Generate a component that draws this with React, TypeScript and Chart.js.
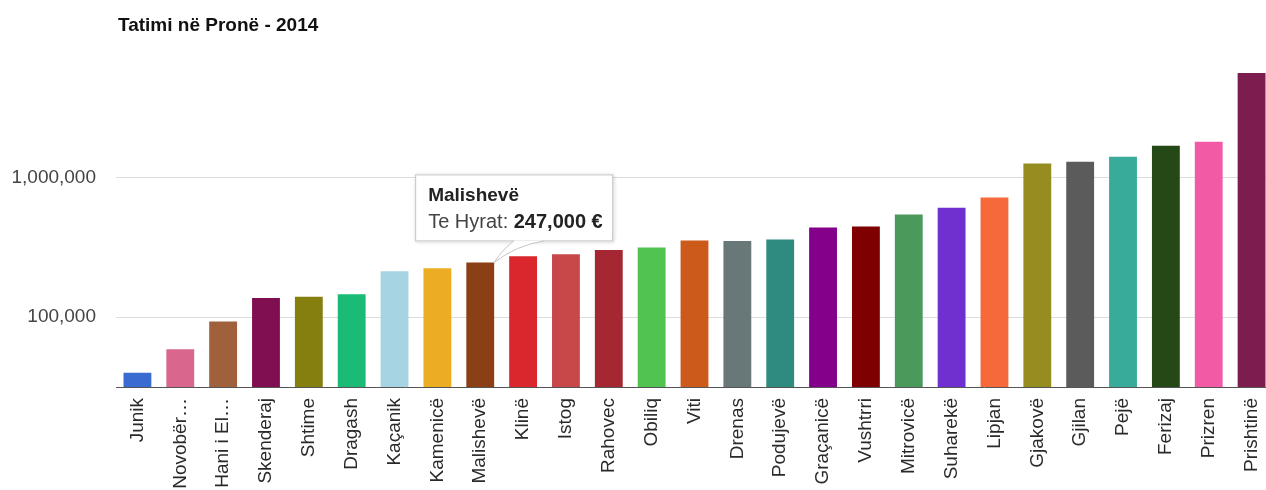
import React, { useEffect, useRef } from "react";
import { Chart, registerables } from "chart.js";

Chart.register(...registerables);

const chartTitle = "Tatimi në Pronë - 2014";
const seriesName = "Te Hyrat";

const categories = [
  "Junik", "Novobërdë", "Hani i Elezit", "Skenderaj", "Shtime", "Dragash", "Kaçanik",
  "Kamenicë", "Malishevë", "Klinë", "Istog", "Rahovec", "Obiliq", "Viti", "Drenas",
  "Podujevë", "Graçanicë", "Vushtrri", "Mitrovicë", "Suharekë", "Lipjan", "Gjakovë",
  "Gjilan", "Pejë", "Ferizaj", "Prizren", "Prishtinë",
];

const tickLabels = [
  "Junik", "Novobër…", "Hani i El…", "Skenderaj", "Shtime", "Dragash", "Kaçanik",
  "Kamenicë", "Malishevë", "Klinë", "Istog", "Rahovec", "Obiliq", "Viti", "Drenas",
  "Podujevë", "Graçanicë", "Vushtrri", "Mitrovicë", "Suharekë", "Lipjan", "Gjakovë",
  "Gjilan", "Pejë", "Ferizaj", "Prizren", "Prishtinë",
];

const revenues = [
  40000, 59000, 93000, 137000, 140000, 146000, 213000,
  224000, 247000, 273000, 282000, 303000, 316000, 355000, 351000,
  361000, 439000, 447000, 544000, 608000, 720000, 1260000,
  1300000, 1410000, 1690000, 1810000, 5620000,
];

const barColors = [
  "#3a6bd0", "#d9668c", "#a0603c", "#7f0f50", "#857f10", "#1abc75", "#a6d4e2",
  "#ecac23", "#8a3f15", "#d9272d", "#c8484a", "#a52731", "#50c350", "#cc5a1b", "#687878",
  "#2f8a80", "#85008a", "#7f0000", "#4c9a5b", "#7030d0", "#f5693b", "#958d20",
  "#5b5b5b", "#38ab9a", "#254817", "#f25aa6", "#7d1d4f",
];

const yTicks = [100000, 1000000];
const yMin = 31623;
const yMax = 7943282;
const highlightIndex = 8;

const FONT = '"Liberation Sans", Arial, sans-serif';

const fmt = (v: number) => Number(v).toLocaleString("en-US");

const overlayPlugin = {
  id: "overlay",
  afterDraw(chart: any) {
    const ctx = chart.ctx as CanvasRenderingContext2D;
    const area = chart.chartArea;
    ctx.save();
    // Title
    ctx.font = `bold 19px ${FONT}`;
    ctx.fillStyle = "#111";
    ctx.textBaseline = "alphabetic";
    ctx.textAlign = "left";
    ctx.fillText(chartTitle, area.left + 2, 31);

    // Tooltip for highlighted bar
    const el = chart.getDatasetMeta(0).data[highlightIndex];
    if (el) {
      const p = el.getProps(["x", "y", "width"], true);
      const tipX = p.x + p.width / 2;
      const tipY = p.y;
      const bw = 198;
      const bh = 67;
      const bx = tipX - 79;
      const by = tipY - 88;
      const bb = by + bh;

      ctx.shadowColor = "rgba(0,0,0,0.18)";
      ctx.shadowBlur = 4;
      ctx.shadowOffsetX = 1;
      ctx.shadowOffsetY = 1;
      ctx.fillStyle = "#fff";
      ctx.fillRect(bx, by, bw, bh);
      ctx.shadowColor = "transparent";
      ctx.strokeStyle = "#c4c4c4";
      ctx.lineWidth = 1;
      ctx.strokeRect(bx + 0.5, by + 0.5, bw - 1, bh - 1);

      // tail
      ctx.beginPath();
      ctx.moveTo(tipX + 20, bb - 1);
      ctx.quadraticCurveTo(tipX + 10, bb + 6, tipX, tipY);
      ctx.quadraticCurveTo(tipX + 22, bb + 4, tipX + 50, bb - 1);
      ctx.closePath();
      ctx.fillStyle = "#fff";
      ctx.fill();
      ctx.beginPath();
      ctx.moveTo(tipX + 20, bb - 0.5);
      ctx.quadraticCurveTo(tipX + 10, bb + 6, tipX, tipY);
      ctx.quadraticCurveTo(tipX + 22, bb + 4, tipX + 50, bb - 0.5);
      ctx.strokeStyle = "#c4c4c4";
      ctx.stroke();

      // text
      ctx.fillStyle = "#222";
      ctx.font = `bold 19px ${FONT}`;
      ctx.fillText(categories[highlightIndex], bx + 13, by + 27);
      ctx.font = `20px ${FONT}`;
      ctx.fillStyle = "#444";
      const lbl = `${seriesName}: `;
      ctx.fillText(lbl, bx + 13, by + 54);
      const w = ctx.measureText(lbl).width;
      ctx.font = `bold 20px ${FONT}`;
      ctx.fillStyle = "#222";
      ctx.fillText(`${fmt(revenues[highlightIndex])} €`, bx + 13 + w, by + 54);
    }
    ctx.restore();
  },
};

export default function App() {
  const ref = useRef<HTMLCanvasElement | null>(null);

  useEffect(() => {
    if (!ref.current) return;
    const chart = new Chart(ref.current, {
      type: "bar",
      data: {
        labels: tickLabels,
        datasets: [
          {
            label: seriesName,
            data: revenues,
            backgroundColor: barColors,
            borderWidth: 0,
            barPercentage: 0.65,
            categoryPercentage: 1,
          },
        ],
      },
      options: {
        responsive: false,
        animation: false,
        devicePixelRatio: 1,
        layout: { padding: { top: 52, left: 0, right: 0, bottom: 0 } },
        plugins: {
          legend: { display: false },
          tooltip: { enabled: false },
          title: { display: false },
        },
        scales: {
          x: {
            grid: { display: false, drawTicks: false },
            border: { display: true, color: "#555", width: 1 },
            ticks: {
              autoSkip: false,
              minRotation: 90,
              maxRotation: 90,
              padding: 11,
              color: "#2a2a2a",
              font: { family: FONT, size: 19 },
            },
            afterFit: (s: any) => {
              s.height = 103;
              s.paddingLeft = 0;
              s.paddingRight = 0;
            },
          },
          y: {
            type: "logarithmic",
            min: yMin,
            max: yMax,
            afterBuildTicks: (s: any) => {
              s.ticks = yTicks.map((v) => ({ value: v }));
            },
            grid: { color: "#dcdcdc", drawTicks: false },
            border: { display: false },
            ticks: {
              padding: 20,
              color: "#444",
              font: { family: FONT, size: 19 },
              callback: (v: any) => fmt(Number(v)),
            },
            afterFit: (s: any) => {
              s.width = 116;
              s.paddingTop = 0;
              s.paddingBottom = 0;
            },
          },
        },
      } as any,
      plugins: [overlayPlugin],
    });
    return () => chart.destroy();
  }, []);

  return (
    <div
      style={{
        position: "fixed",
        left: 0,
        top: 0,
        width: 1273,
        height: 490,
        background: "#fff",
        overflow: "hidden",
      }}
    >
      <canvas ref={ref} width={1273} height={490} style={{ display: "block" }} />
    </div>
  );
}
